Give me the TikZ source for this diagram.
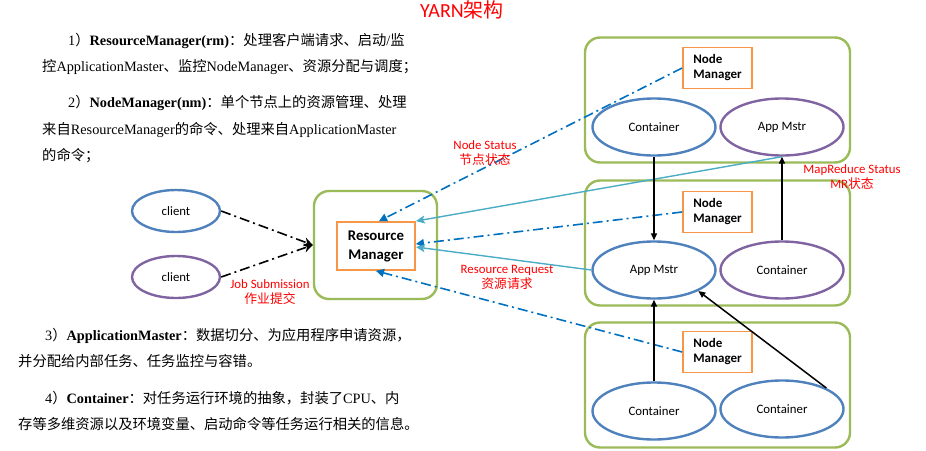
\documentclass[tikz,border=0pt]{standalone}
\usepackage{fontspec}
\setmainfont{Liberation Serif}
\newfontfamily\zhfont{Noto Sans CJK SC}
\newfontfamily\diagfont{Carlito}
\newcommand{\zhtxt}[1]{{\zhfont #1}}
\usetikzlibrary{shapes.geometric,arrows.meta}
\definecolor{hostgreen}{HTML}{9BBB59}
\definecolor{mgrorange}{HTML}{F79646}
\definecolor{ellblue}{HTML}{4F81BD}
\definecolor{ellpurple}{HTML}{8064A2}
\definecolor{statblue}{HTML}{0070C0}
\definecolor{reqteal}{HTML}{4BACC6}
\begin{document}
\begin{tikzpicture}[x=1pt,y=-1pt,
  host/.style={draw=hostgreen,line width=2.4pt,rounded corners=15pt,minimum width=265pt,minimum height=125pt},
  nmbox/.style={draw=mgrorange,line width=1.8pt,minimum width=69pt,minimum height=41pt,inner sep=1pt,align=left,font=\diagfont\bfseries\fontsize{13}{15}\selectfont},
  ell/.style={ellipse,draw,line width=2.4pt,minimum width=123pt,minimum height=57pt,font=\diagfont\fontsize{12.8}{14}\selectfont},
  para/.style={anchor=base west,inner sep=0pt,font=\fontsize{14.3}{16}\selectfont},
  redlbl/.style={text=red,align=center,inner sep=0pt,font=\diagfont\fontsize{12.8}{15}\selectfont},
  submit/.style={line width=1.6pt,dash pattern=on 10pt off 4pt on 2pt off 4pt,-{Stealth[length=9pt,width=9pt]}},
  stat/.style={draw=statblue,line width=1.6pt,dash pattern=on 10pt off 4pt on 2pt off 4pt,-{Triangle[length=8pt,width=8pt]}},
  req/.style={draw=reqteal,line width=1.4pt,-{Stealth[length=9pt,width=8pt,inset=2pt]}},
  flow/.style={line width=1.5pt,-{Triangle[length=7pt,width=6pt]}}]
\useasboundingbox (0,0) rectangle (926,450);

\node[text=red,font=\diagfont\fontsize{20}{22}\selectfont] (title) at (462,10) {YARN\zhtxt{架构}};

\node[para] (t1a) at (68,45) {1\zhtxt{）}\textbf{ResourceManager(rm)}\zhtxt{：处理客户端请求、启动}/\zhtxt{监}};
\node[para] (t1b) at (42,71) {\zhtxt{控}ApplicationMaster\zhtxt{、监控}NodeManager\zhtxt{、资源分配与调度；}};
\node[para] (t2a) at (68,107) {2\zhtxt{）}\textbf{NodeManager(nm)}\zhtxt{：单个节点上的资源管理、处理}};
\node[para] (t2b) at (42,134) {\zhtxt{来自}ResourceManager\zhtxt{的命令、处理来自}ApplicationMaster};
\node[para] (t2c) at (42,160) {\zhtxt{的命令；}};
\node[para] (t3a) at (45,340) {3\zhtxt{）}\textbf{ApplicationMaster}\zhtxt{：数据切分、为应用程序申请资源，}};
\node[para] (t3b) at (18,366) {\zhtxt{并分配给内部任务、任务监控与容错。}};
\node[para] (t4a) at (45,403) {4\zhtxt{）}\textbf{Container}\zhtxt{：对任务运行环境的抽象，封装了}CPU\zhtxt{、内}};
\node[para] (t4b) at (18,429) {\zhtxt{存等多维资源以及环境变量、启动命令等任务运行相关的信息。}};

\node[ell,draw=ellblue,minimum width=88pt,minimum height=42pt] (cl1) at (176,211) {client};
\node[ell,draw=ellpurple,minimum width=88pt,minimum height=42pt] (cl2) at (176,277) {client};

\node[host,minimum width=123pt,minimum height=108pt] (rmhost) at (375.5,245) {};
\node[draw=mgrorange,line width=1.8pt,minimum width=78pt,minimum height=48pt,align=center,inner sep=1pt,font=\diagfont\bfseries\fontsize{14.8}{19}\selectfont] (rm) at (376,246) {Resource\\Manager};

\node[host] (host1) at (717.5,100) {};
\node[host] (host2) at (717.5,243) {};
\node[host] (host3) at (717.5,385) {};

\node[nmbox] (nm1) at (717.5,68) {Node\\Manager};
\node[nmbox] (nm2) at (717.5,212) {Node\\Manager};
\node[nmbox] (nm3) at (717.5,352) {Node\\Manager};

\node[ell,draw=ellblue] (ct1) at (654,127) {Container};
\node[ell,draw=ellpurple] (am1) at (782,127) {App Mstr};
\node[ell,draw=ellblue] (am2) at (654,270) {App Mstr};
\node[ell,draw=ellpurple] (ct2) at (782,270) {Container};
\node[ell,draw=ellblue] (ct3) at (654,411) {Container};
\node[ell,draw=ellblue] (ct4) at (782,409) {Container};

\draw[submit] (cl1.east) -- (rmhost.west);
\draw[submit] (cl2.east) -- (rmhost.west);

\draw[stat] (nm1.west) -- ([xshift=3pt]rm.north);
\draw[stat] (nm2.west) -- ([yshift=2pt]rm.east);
\draw[stat] (nm3.west) -- (rm.south);
\draw[req] (am1.south) -- (rm.north east);
\draw[req] (am2.west) -- ([yshift=-1pt]rm.east);

\draw[flow] (ct1.south) -- (am2.north);
\draw[flow] (ct2.north) -- (am1.south);
\draw[flow] (ct3.north) -- (am2.south);
\draw[flow] (ct4.north east) -- (am2.south east);

\node[redlbl] (jobsub) at (270,292) {Job Submission\\\zhtxt{作业提交}};
\node[redlbl] (nodestat) at (485,153) {Node Status\\\zhtxt{节点状态}};
\node[redlbl] (resreq) at (507,277) {Resource Request\\\zhtxt{资源请求}};
\node[redlbl] (mrstat) at (852,177) {MapReduce Status\\MR\zhtxt{状态}};
\end{tikzpicture}
\end{document}
